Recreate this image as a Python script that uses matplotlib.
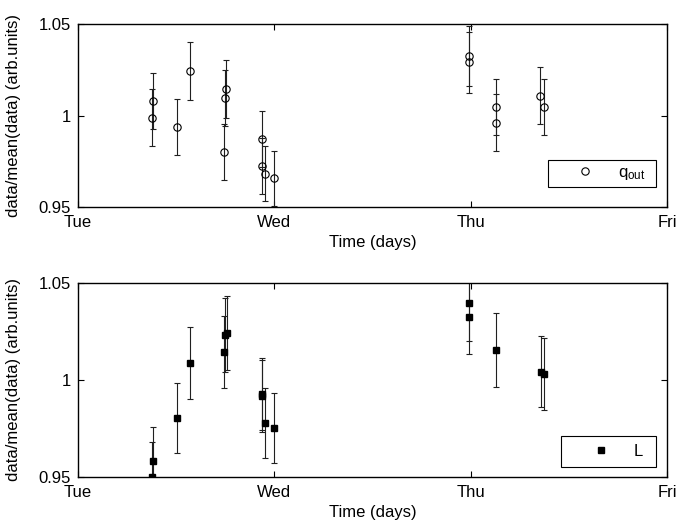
import matplotlib
matplotlib.use('Agg')
import matplotlib.pyplot as plt

plt.rcParams['font.family'] = ['Liberation Sans', 'DejaVu Sans']
plt.rcParams['mathtext.fontset'] = 'custom'
plt.rcParams['mathtext.rm'] = 'Liberation Sans'
plt.rcParams['mathtext.it'] = 'Liberation Sans'
plt.rcParams['font.size'] = 12

# time in days after Tuesday 00:00
t_q = [0.379, 0.384, 0.502, 0.572, 0.745, 0.750, 0.755, 0.935, 0.935, 0.954, 1.000,
       1.991, 1.991, 2.131, 2.131, 2.355, 2.373]
q_out = [0.9989, 1.0080, 0.9938, 1.0244, 0.9799, 1.0097, 1.0146, 0.9871, 0.9724,
         0.9683, 0.9657, 1.0326, 1.0290, 1.0047, 0.9960, 1.0108, 1.0047]
q_err = [0.0155, 0.0155, 0.0153, 0.0157, 0.0152, 0.0152, 0.0157, 0.0152, 0.0152,
         0.0150, 0.0150, 0.0165, 0.0165, 0.0155, 0.0155, 0.0155, 0.0155]

t_L = [0.375, 0.384, 0.502, 0.572, 0.745, 0.750, 0.757, 0.935, 0.935, 0.954, 1.000,
       1.991, 1.991, 2.131, 2.357, 2.373]
L_val = [0.9502, 0.9582, 0.9805, 1.0088, 1.0143, 1.0231, 1.0240, 0.9927, 0.9917,
         0.9779, 0.9754, 1.0397, 1.0322, 1.0154, 1.0042, 1.0029]
L_err = [0.0177, 0.0177, 0.0181, 0.0186, 0.0187, 0.0189, 0.0189, 0.0185, 0.0185,
         0.0180, 0.0180, 0.0196, 0.0190, 0.0189, 0.0184, 0.0185]

day_ticks = [0, 1, 2, 3]
day_labels = ['Tue', 'Wed', 'Thu', 'Fri']
y_ticks = [0.95, 1.0, 1.05]
y_labels = ['0.95', '1', '1.05']

fig = plt.figure(figsize=(6.76, 5.30), dpi=100)
ax1 = fig.add_axes([0.1154, 0.6094, 0.8713, 0.3453])
ax2 = fig.add_axes([0.1154, 0.1000, 0.8713, 0.3666])


def style(ax):
    ax.set_xlim(0, 3)
    ax.set_ylim(0.95, 1.05)
    ax.set_xticks(day_ticks)
    ax.set_xticklabels(day_labels)
    ax.set_yticks(y_ticks)
    ax.set_yticklabels(y_labels)
    ax.tick_params(direction='in', top=True, right=True, length=4, width=0.8)
    ax.tick_params(axis='x', pad=6)
    ax.tick_params(axis='y', pad=5)
    for s in ax.spines.values():
        s.set_linewidth(1.0)
    ax.set_xlabel('Time (days)', labelpad=3)
    ax.set_ylabel('data/mean(data) (arb.units)')
    ax.yaxis.set_label_coords(-0.097, 0.5)


eb1 = ax1.errorbar(t_q, q_out, yerr=q_err, fmt='o', ms=5.3, mfc='none', mec='k', mew=0.8,
                   ecolor='#202020', elinewidth=0.8, capsize=2.5, capthick=0.8)
style(ax1)
leg1 = ax1.legend([eb1[0]], [r'q$_{\rm out}$' + '  '], loc='lower right',
                  bbox_to_anchor=(0.9813, 0.1085), borderaxespad=0,
                  handlelength=3.8, handletextpad=0.1, borderpad=0.3, fancybox=False,
                  framealpha=1, edgecolor='k', numpoints=1)
leg1.get_frame().set_linewidth(0.8)

eb2 = ax2.errorbar(t_L, L_val, yerr=L_err, fmt='s', ms=4.5, mfc='k', mec='k',
                   ecolor='#202020', elinewidth=0.8, capsize=2.5, capthick=0.8)
style(ax2)
leg2 = ax2.legend([eb2[0]], ['L '], loc='lower right',
                  bbox_to_anchor=(0.9813, 0.0494), borderaxespad=0,
                  handlelength=3.8, handletextpad=0.1, borderpad=0.5, fancybox=False,
                  framealpha=1, edgecolor='k', numpoints=1)
leg2.get_frame().set_linewidth(0.8)

fig.savefig('out.png', dpi=100)
